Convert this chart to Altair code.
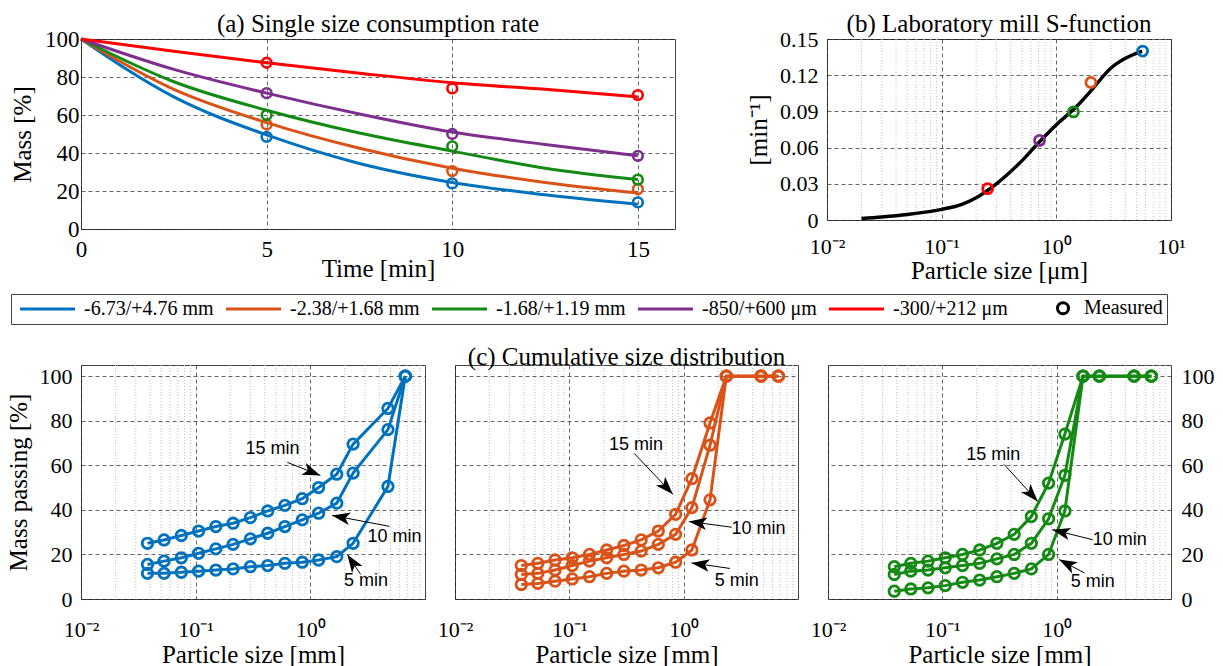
import math
import altair as alt
import pandas as pd

SERIF = "Liberation Serif"
SANS = "Liberation Sans"

series_names = ["-6.73/+4.76 mm", "-2.38/+1.68 mm", "-1.68/+1.19 mm", "-850/+600 μm", "-300/+212 μm"]
series_colors = ["#0072BD", "#D95319", "#148A14", "#7E2F8E", "#FF0000"]

# ---------------- (a) single size consumption rate
a_time_model = [0, 2.5, 5, 7.5, 10, 12.5, 15]
a_model = [
    [100, 69.5, 49.5, 34.5, 24.5, 18, 13],
    [100, 73.5, 56, 42.5, 32, 24.5, 19],
    [100, 77.5, 62.5, 50.5, 41, 32, 26],
    [100, 84, 71.5, 60.5, 51, 44.5, 38.5],
    [100, 93.5, 87.5, 82, 77, 73.5, 69.5],
]
a_time_meas = [5, 10, 15]
a_meas = [
    [48.5, 24, 14],
    [55, 30.5, 21],
    [60, 43.5, 26],
    [71.5, 50, 38.5],
    [87.5, 74, 70.5],
]

# ---------------- (b) S-function
b_curve_size = [0.02, 0.03, 0.05, 0.1, 0.15, 0.2, 0.3, 0.5, 0.7, 1.0, 1.5, 2.0, 3.0, 4.0, 5.6]
b_curve_rate = [0.0013, 0.0025, 0.0045, 0.0088, 0.013, 0.0185, 0.030, 0.049, 0.064, 0.079,
                0.094, 0.107, 0.126, 0.134, 0.140]
b_meas_size = [5.66, 2.0, 1.41, 0.714, 0.252]
b_meas_rate = [0.140, 0.114, 0.0896, 0.066, 0.026]

# ---------------- (c) cumulative size distribution
sieve_mm = [0.038, 0.053, 0.075, 0.106, 0.15, 0.212, 0.3, 0.425, 0.6, 0.85, 1.18, 1.7, 2.36, 4.75, 6.73]
c_times = ["5 min", "10 min", "15 min"]
c1_pass = [
    [11.5, 11.5, 12, 12.5, 13, 13.5, 14.5, 15, 16, 16.5, 17.5, 19, 25, 50.5, 100],
    [15.5, 17, 18.5, 20.5, 22.5, 24.5, 27, 29.5, 32.5, 35.5, 38.5, 43, 56.5, 76, 100],
    [25, 26.5, 28.5, 30.5, 32.5, 34, 36.5, 39.5, 42, 45, 50, 56, 69.5, 85.5, 100],
]
c2_pass = [
    [6.5, 7, 8, 9, 10, 11.5, 12.5, 13, 14, 16.5, 22, 44.5, 100, 100, 100],
    [11, 11.5, 13, 15, 17, 18.5, 20, 21.5, 24.5, 29, 41, 69, 100, 100, 100],
    [15, 16, 17.5, 18.5, 20, 22, 24, 26.5, 30.5, 38, 54, 79, 100, 100, 100],
]
c3_pass = [
    [3.5, 4.5, 5, 6, 7.5, 8.5, 10, 11.5, 13.5, 20, 39.5, 100, 100, 100, 100],
    [11, 12.5, 13, 14, 15, 16, 18, 20, 25, 36, 55.5, 100, 100, 100, 100],
    [14.5, 16, 17, 18.5, 20, 22, 25, 29, 37, 52, 74, 100, 100, 100, 100],
]

ann_labels = ["15 min", "10 min", "5 min"]
c1_text_x = [0.468, 5.42, 3.06]
c1_text_y = [67.2, 27.7, 8.3]
c1_arrow_x0 = [0.631, 4.9, 2.75]
c1_arrow_y0 = [61.3, 32.6, 11]
c1_arrow_x1 = [1.224, 1.55, 2.1]
c1_arrow_y1 = [55.4, 37.5, 20]

c2_text_x = [0.383, 4.52, 2.91]
c2_text_y = [69, 31.4, 8.3]
c2_arrow_x0 = [0.37, 2.63, 2.54]
c2_arrow_y0 = [65.3, 32.2, 13.7]
c2_arrow_x1 = [0.805, 1.11, 1.17]
c2_arrow_y1 = [47, 34.8, 16.2]

c3_text_x = [0.279, 3.56, 2.07]
c3_text_y = [64.6, 26.3, 7.7]
c3_arrow_x0 = [0.347, 2.07, 1.75]
c3_arrow_y0 = [60.4, 26.6, 11.7]
c3_arrow_x1 = [0.684, 0.916, 1.05]
c3_arrow_y1 = [43.8, 31.1, 17.7]

minor_ticks = [m * 10.0 ** e for e in (-2, -1, 0) for m in range(2, 10)]

legend_items = series_names + ["Measured"]
legend_colors = series_colors + ["#000000"]

# ---------------- layout constants
W_A, H_A = 594, 190
W_B, H_B = 344, 181
W_C, H_C = 344, 234
Y_C_MAX = 105
PAD_LEFT, PAD_TOP = 5, 11
ROW_GAP = 60

LINE_PATH = "M-1,0L10,0"
CIRCLE_PATH = "M-1,0L-1,0.002M8.7,0A1.1,1.1 0 1,0 6.5,0A1.1,1.1 0 1,0 8.7,0"
ARROW_PATH = "M0,0L-0.7,2L0,1.5L0.7,2Z"

GRID = dict(grid=True, gridColor="#1a1a1a", gridDash=[4, 3], gridWidth=0.8, gridOpacity=0.85)
AX = dict(labelFont=SERIF, titleFont=SERIF, labelColor="black", titleColor="black",
          titleFontWeight="normal", domain=False, ticks=False, labelFlush=False, labelOverlap=False)

LOG_LABELS = ("datum.value < 0.05 ? '10⁻²' : datum.value < 0.5 ? '10⁻¹' : "
              "datum.value < 5 ? '10⁰' : '10¹'")

color_scale = alt.Scale(domain=series_names, range=series_colors)


def title_params(text, offset):
    return alt.TitleParams(text, font=SERIF, fontSize=25, fontWeight="normal", color="black",
                           offset=offset, anchor="middle", frame="group")


# ---------------- panel (a)
a_model_df = pd.DataFrame([
    {"t": t, "m": v, "series": s}
    for s, vals in zip(series_names, a_model) for t, v in zip(a_time_model, vals)
])
a_meas_df = pd.DataFrame([
    {"t": t, "m": v, "series": s}
    for s, vals in zip(series_names, a_meas) for t, v in zip(a_time_meas, vals)
])
xa = alt.Scale(domain=[0, 16], nice=False, zero=False)
ya = alt.Scale(domain=[0, 100], nice=False)
xa_axis = alt.Axis(values=[0, 5, 10, 15], title="Time [min]", labelFontSize=23, titleFontSize=25,
                   labelPadding=9, titlePadding=-5, **GRID, **AX)
ya_axis = alt.Axis(values=[0, 20, 40, 60, 80, 100], title="Mass [%]", labelFontSize=23,
                   titleFontSize=25, labelPadding=2, titlePadding=9, **GRID, **AX)

a_lines = alt.Chart(a_model_df).mark_line(strokeWidth=3, interpolate="monotone").encode(
    x=alt.X("t:Q", scale=xa, axis=xa_axis),
    y=alt.Y("m:Q", scale=ya, axis=ya_axis),
    color=alt.Color("series:N", scale=color_scale, legend=None),
)
a_points = alt.Chart(a_meas_df).mark_point(filled=False, size=95, strokeWidth=2.6, opacity=1).encode(
    x=alt.X("t:Q", scale=xa, axis=xa_axis),
    y=alt.Y("m:Q", scale=ya, axis=ya_axis),
    color=alt.Color("series:N", scale=color_scale, legend=None),
)
legend_def = alt.Legend(
    orient="none", legendX=13 - 83, legendY=292 - 37, direction="horizontal", columns=6,
    title=None, labelFont=SERIF, labelFontSize=20, labelColor="black", labelOffset=49, columnPadding=6,
    symbolSize=100, symbolStrokeWidth=3, symbolOpacity=1, padding=4, strokeColor="#444",
    fillColor="white", cornerRadius=0,
)
legend_layer = alt.Chart(pd.DataFrame({"item": legend_items})).transform_filter("false").mark_point(
    filled=False, size=100, strokeWidth=3, opacity=1
).encode(
    stroke=alt.Stroke("item:N", scale=alt.Scale(domain=legend_items, range=legend_colors), legend=legend_def),
    shape=alt.Shape("item:N", scale=alt.Scale(domain=legend_items, range=[LINE_PATH] * 5 + [CIRCLE_PATH]),
                    legend=legend_def),
)
panel_a = alt.layer(a_lines, a_points, legend_layer).properties(
    width=W_A, height=H_A, title=title_params("(a) Single size consumption rate", -9))

# ---------------- panel (b)
xlog = alt.Scale(type="log", domain=[0.01, 10], nice=False)
yb = alt.Scale(domain=[0, 0.15], nice=False)
minor_df = pd.DataFrame({"v": minor_ticks})


def minor_grid(scale, axis):
    return alt.Chart(minor_df).mark_rule(color="#c4c4c4", strokeDash=[1, 2], strokeWidth=1).encode(
        x=alt.X("v:Q", scale=scale, axis=axis))


xb_axis = alt.Axis(values=[0.01, 0.1, 1, 10], labelExpr=LOG_LABELS, title="Particle size [μm]",
                   labelFontSize=22, titleFontSize=25, labelPadding=16, titlePadding=1, **GRID, **AX)
yb_axis = alt.Axis(values=[0, 0.03, 0.06, 0.09, 0.12, 0.15],
                   labelExpr="datum.value == 0 ? '0' : format(datum.value, '.2f')",
                   title="[min⁻¹]", labelFontSize=22, titleFontSize=25, labelPadding=9,
                   titlePadding=8, **GRID, **AX)

b_curve_df = pd.DataFrame({"x": b_curve_size, "y": b_curve_rate})
b_meas_df = pd.DataFrame({"x": b_meas_size, "y": b_meas_rate, "series": series_names})
b_curve = alt.Chart(b_curve_df).mark_line(color="black", strokeWidth=3.5, interpolate="monotone").encode(
    x=alt.X("x:Q", scale=xlog, axis=xb_axis),
    y=alt.Y("y:Q", scale=yb, axis=yb_axis),
)
b_points = alt.Chart(b_meas_df).mark_point(filled=False, size=100, strokeWidth=2.8, opacity=1).encode(
    x=alt.X("x:Q", scale=xlog, axis=xb_axis),
    y=alt.Y("y:Q", scale=yb, axis=yb_axis),
    color=alt.Color("series:N", scale=color_scale, legend=None),
)
panel_b = alt.layer(minor_grid(xlog, xb_axis), b_curve, b_points).properties(
    width=W_B, height=H_B, title=title_params("(b) Laboratory mill S-function", -9))


# ---------------- panels (c)
def arrow_angle(x0, y0, x1, y1):
    px_dec = W_C / 3.0
    px_unit = H_C / Y_C_MAX
    dx = (math.log10(x1) - math.log10(x0)) * px_dec
    dy = -(y1 - y0) * px_unit
    return math.degrees(math.atan2(dx, -dy)) % 360


def c_panel(series, passing, tx, ty, ax0, ay0, ax1, ay1, ymode, width, title=None):
    yc = alt.Scale(domain=[0, Y_C_MAX], nice=False)
    df = pd.DataFrame([
        {"x": s, "y": v, "time": t, "series": series}
        for t, vals in zip(c_times, passing) for s, v in zip(sieve_mm, vals)
    ])
    if ymode == "left":
        yaxis = alt.Axis(values=[0, 20, 40, 60, 80, 100], title="Mass passing [%]", labelFontSize=22,
                         titleFontSize=25, labelPadding=9, titlePadding=8, **GRID, **AX)
    elif ymode == "right":
        yaxis = alt.Axis(values=[0, 20, 40, 60, 80, 100], title=None, orient="right", labelFontSize=22,
                         labelPadding=10, **GRID, **AX)
    else:
        yaxis = alt.Axis(values=[0, 20, 40, 60, 80, 100], title=None, labels=False, **GRID, **AX)
    xaxis = alt.Axis(values=[0.01, 0.1, 1], labelExpr=LOG_LABELS, title="Particle size [mm]",
                     labelFontSize=22, titleFontSize=25, labelPadding=20, titlePadding=2, **GRID, **AX)
    lines = alt.Chart(df).mark_line(strokeWidth=3).encode(
        x=alt.X("x:Q", scale=xlog, axis=xaxis),
        y=alt.Y("y:Q", scale=yc, axis=yaxis),
        color=alt.Color("series:N", scale=color_scale, legend=None),
        detail="time:N",
    )
    pts = alt.Chart(df).mark_point(filled=False, size=110, strokeWidth=2.8, opacity=1).encode(
        x=alt.X("x:Q", scale=xlog, axis=xaxis),
        y=alt.Y("y:Q", scale=yc, axis=yaxis),
        color=alt.Color("series:N", scale=color_scale, legend=None),
    )
    ann = pd.DataFrame({
        "label": ann_labels, "tx": tx, "ty": ty, "x0": ax0, "y0": ay0, "x1": ax1, "y1": ay1,
        "ang": [arrow_angle(a, b, c, d) for a, b, c, d in zip(ax0, ay0, ax1, ay1)],
    })
    shafts = alt.Chart(ann).mark_rule(color="black", strokeWidth=1).encode(
        x=alt.X("x0:Q", scale=xlog, axis=xaxis), y=alt.Y("y0:Q", scale=yc, axis=yaxis),
        x2="x1:Q", y2="y1:Q")
    heads = alt.Chart(ann).mark_point(shape=ARROW_PATH, filled=True, color="black", size=324,
                                      opacity=1, strokeWidth=0).encode(
        x=alt.X("x1:Q", scale=xlog, axis=xaxis), y=alt.Y("y1:Q", scale=yc, axis=yaxis),
        angle=alt.Angle("ang:Q", scale=None))
    texts = alt.Chart(ann).mark_text(font=SANS, fontSize=18, color="black", align="center",
                                     baseline="middle").encode(
        x=alt.X("tx:Q", scale=xlog, axis=xaxis), y=alt.Y("ty:Q", scale=yc, axis=yaxis), text="label:N")
    props = dict(width=width, height=H_C)
    if title:
        props["title"] = title_params(title, -5)
    return alt.layer(minor_grid(xlog, xaxis), lines, pts, shafts, heads, texts).properties(**props)


c1 = c_panel(series_names[0], c1_pass, c1_text_x, c1_text_y, c1_arrow_x0, c1_arrow_y0,
             c1_arrow_x1, c1_arrow_y1, "left", 344)
c2 = c_panel(series_names[1], c2_pass, c2_text_x, c2_text_y, c2_arrow_x0, c2_arrow_y0,
             c2_arrow_x1, c2_arrow_y1, "none", 343, title="(c) Cumulative size distribution")
c3 = c_panel(series_names[2], c3_pass, c3_text_x, c3_text_y, c3_arrow_x0, c3_arrow_y0,
             c3_arrow_x1, c3_arrow_y1, "right", 343)

top = alt.hconcat(panel_a, panel_b, spacing=152, bounds="flush")
bottom = alt.hconcat(c1, c2, c3, spacing=30, bounds="flush")

chart = alt.vconcat(top, bottom, spacing=ROW_GAP).properties(
    padding={"left": PAD_LEFT, "top": PAD_TOP, "right": 0, "bottom": 0},
    background="white",
).configure_view(stroke="#444", strokeWidth=1)

chart.save("out.html", embed_options={"renderer": "svg", "actions": False})
